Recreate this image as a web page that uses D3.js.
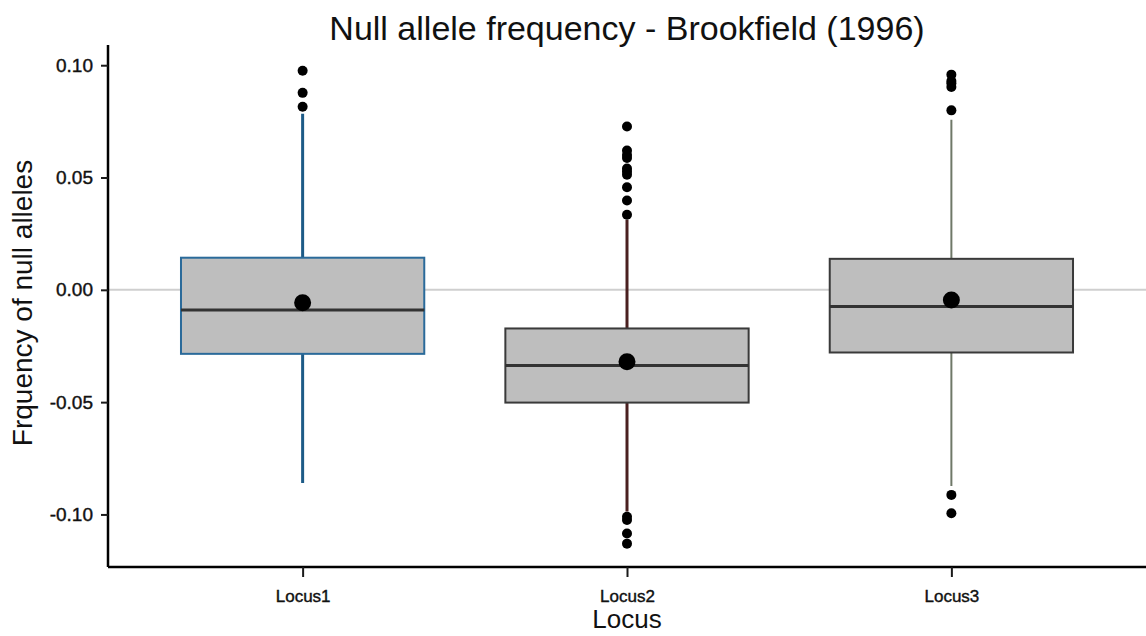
<!DOCTYPE html>
<html>
<head>
<meta charset="utf-8">
<script src="https://cdn.jsdelivr.net/npm/d3@7"></script>
<style>
  body { margin: 0; background: #fff; }
  text { font-family: "Liberation Sans", Arial, sans-serif; }
</style>
</head>
<body>
<div id="chart"></div>
<script>
// values
const loci = ["Locus1", "Locus2", "Locus3"];
const q1 = [-0.0285, -0.0502, -0.0279];
const medians = [-0.0090, -0.0337, -0.0074];
const q3 = [0.0143, -0.0172, 0.0138];
const whiskerLow = [-0.0860, -0.0987, -0.0873];
const whiskerHigh = [0.0784, 0.0312, 0.0757];
const means = [-0.0058, -0.0320, -0.0045];
const outliers = [
  [0.0975, 0.0877, 0.0815],
  [0.0727, 0.0620, 0.0600, 0.0587, 0.0540, 0.0527, 0.0512, 0.0457, 0.0398, 0.0334,
   -0.1010, -0.1025, -0.1085, -0.1130],
  [0.0958, 0.0930, 0.0920, 0.0903, 0.0799, -0.0913, -0.0995]
];
const yTicks = [-0.10, -0.05, 0.00, 0.05, 0.10];
const whiskerColors = ["#1d5b87", "#4a2020", "#6f7868"];

const svgWidth = 1146;
const svgHeight = 636;
const margin = { top: 45, right: 0, bottom: 69, left: 108 };
const width = svgWidth - margin.left - margin.right;
const height = svgHeight - margin.top - margin.bottom;

const svg = d3.select("#chart")
  .append("svg")
  .attr("width", svgWidth)
  .attr("height", svgHeight);

const chartGroup = svg.append("g")
  .attr("transform", `translate(${margin.left}, ${margin.top})`);

// scales
const xScale = d3.scalePoint()
  .domain(loci)
  .range([0, width])
  .padding(0.6);
const step = xScale.step();
const boxW = step * 0.75;

const yScale = d3.scaleLinear()
  .domain([-0.1234, 0.109])
  .range([height, 0]);

// zero reference line
chartGroup.append("line")
  .attr("x1", 0)
  .attr("x2", width)
  .attr("y1", yScale(0))
  .attr("y2", yScale(0))
  .attr("stroke", "#cfcfcf")
  .attr("stroke-width", 2);

const boxes = chartGroup.selectAll("g.box")
  .data(loci)
  .enter()
  .append("g")
  .classed("box", true);

// whiskers
boxes.append("line")
  .attr("x1", d => xScale(d))
  .attr("x2", d => xScale(d))
  .attr("y1", (d, i) => yScale(whiskerLow[i]))
  .attr("y2", (d, i) => yScale(whiskerHigh[i]))
  .attr("stroke", (d, i) => whiskerColors[i])
  .attr("stroke-width", (d, i) => i === 2 ? 2 : 3);

// boxes
boxes.append("rect")
  .attr("x", d => xScale(d) - boxW / 2)
  .attr("width", boxW)
  .attr("y", (d, i) => yScale(q3[i]))
  .attr("height", (d, i) => yScale(q1[i]) - yScale(q3[i]))
  .attr("fill", "#bebebe")
  .attr("stroke", (d, i) => i === 0 ? "#2a6a9a" : "#3a3a3a")
  .attr("stroke-width", 2);

// medians
boxes.append("line")
  .attr("x1", d => xScale(d) - boxW / 2)
  .attr("x2", d => xScale(d) + boxW / 2)
  .attr("y1", (d, i) => yScale(medians[i]))
  .attr("y2", (d, i) => yScale(medians[i]))
  .attr("stroke", "#333333")
  .attr("stroke-width", 3);

// outliers
boxes.each(function(d, i) {
  d3.select(this).selectAll("circle.outlier")
    .data(outliers[i])
    .enter()
    .append("circle")
    .classed("outlier", true)
    .attr("cx", xScale(d))
    .attr("cy", v => yScale(v))
    .attr("r", 5)
    .attr("fill", "#000");
});

// means
boxes.append("circle")
  .attr("cx", d => xScale(d))
  .attr("cy", (d, i) => yScale(means[i]))
  .attr("r", 8.5)
  .attr("fill", "#000");

// axes
const leftAxis = d3.axisLeft(yScale)
  .tickValues(yTicks)
  .tickFormat(d => d3.format(".2f")(d).replace("\u2212", "-"))
  .tickSize(7)
  .tickPadding(8);
const bottomAxis = d3.axisBottom(xScale)
  .tickSize(10)
  .tickPadding(13);

const yAxis = chartGroup.append("g").call(leftAxis);
const xAxis = chartGroup.append("g")
  .attr("transform", `translate(0, ${height})`)
  .call(bottomAxis);

[yAxis, xAxis].forEach(ax => {
  ax.select(".domain").attr("stroke", "#000").attr("stroke-width", 2.5);
  ax.selectAll(".tick line").attr("stroke", "#1a1a1a").attr("stroke-width", 2);
  ax.selectAll(".tick text")
    .attr("fill", "#111")
    .attr("stroke", "#111")
    .attr("stroke-width", 0.4)
    .style("font-family", "'Liberation Sans', Arial, sans-serif");
});
yAxis.selectAll(".tick text").style("font-size", "19px");
xAxis.selectAll(".tick text").style("font-size", "17px");
xAxis.select(".domain").attr("d", `M0,0H${width}`);
yAxis.select(".domain").attr("d", `M0,0V${height}`);

// titles
svg.append("text")
  .attr("x", margin.left + xScale("Locus2"))
  .attr("y", 40)
  .attr("text-anchor", "middle")
  .style("font-size", "34px")
  .attr("fill", "#111")
  .text("Null allele frequency - Brookfield (1996)");

svg.append("text")
  .attr("x", margin.left + xScale("Locus2"))
  .attr("y", 628)
  .attr("text-anchor", "middle")
  .style("font-size", "26px")
  .attr("fill", "#111")
  .text("Locus");

svg.append("text")
  .attr("transform", "rotate(-90)")
  .attr("x", -303)
  .attr("y", 32)
  .attr("text-anchor", "middle")
  .style("font-size", "28px")
  .attr("fill", "#111")
  .text("Frquency of null alleles");
</script>
</body>
</html>
